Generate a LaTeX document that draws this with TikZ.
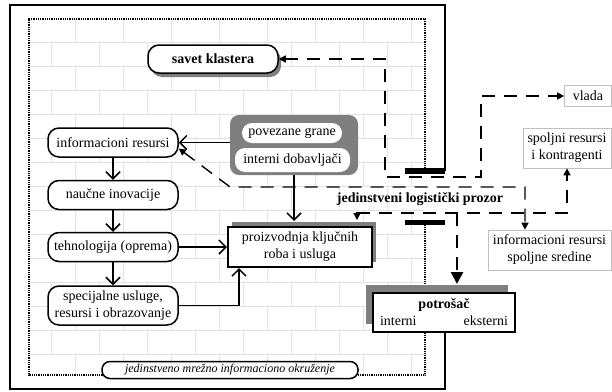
\documentclass[tikz,border=0pt]{standalone}
\usepackage{fontspec}
\setmainfont{Liberation Serif}
\usetikzlibrary{arrows.meta,positioning,shadows,calc}
\definecolor{brickGray}{HTML}{E2E2E2}
\definecolor{shadeGray}{HTML}{7F7F7F}
\tikzset{
  kpill/.style={draw,line width=1.5pt,rounded corners=11pt,fill=white,align=center,
    inner sep=1pt,minimum width=130pt,minimum height=29pt},
  kbox/.style={draw,line width=2pt,fill=white,align=center,inner sep=2pt},
  wpill/.style={fill=white,rounded corners=10pt,inner sep=2pt},
  xbox/.style={draw=black!25,line width=.7pt,fill=white,align=center,inner sep=2pt},
  sflow/.style={-{Straight Barb[length=7pt,width=14pt]},line width=1.5pt},
  dflow/.style={{Triangle[length=7pt,width=7pt]}-{Triangle[length=7pt,width=7pt]},
    line width=1.4pt,dash pattern=on 13pt off 9pt},
  pflow/.style={-{Triangle[length=12pt,width=12pt]},line width=2.4pt,
    dash pattern=on 13pt off 9pt},
  brick/.style={draw=brickGray,line width=.9pt},
}

\begin{document}
\begin{tikzpicture}[x=1pt,y=-1pt,font=\fontsize{14}{17}\selectfont]
\useasboundingbox (0,0) rectangle (612,391);
\begin{scope}
  \clip (29,19) rectangle (425,375);
  \foreach \r in {0,...,14}{
    \pgfmathsetmacro\ya{18+24*\r}
    \pgfmathsetmacro\xo{27-24*mod(\r,2)}
    \draw[brick] (29,\ya) -- (425,\ya);
    \foreach \k in {0,...,8}
      \draw[brick] (\xo+48*\k,\ya) -- (\xo+48*\k,\ya+24);
  }
\end{scope}
\draw[line width=1.6pt] (445,171) -- (445,5) -- (10,5) -- (10,389) -- (445,389) -- (445,332);
\draw[line width=1.2pt,dash pattern=on .9pt off .9pt] (425,171) -- (425,19) -- (29,19)
  -- (29,375) -- (425,375) -- (425,222);
\fill (405,168) rectangle (445,174);
\fill (405,220) rectangle (445,225);

\node[kpill,font=\fontsize{14}{17}\bfseries,minimum height=28pt,
  drop shadow={shadow xshift=3pt,shadow yshift=-4pt,fill=shadeGray,opacity=1}]
  (savet) at (213,59) {savet klastera};
\node[kpill] (ir) at (113,142.5) {informacioni resursi};
\node[kpill] (ni) at (113,195) {naučne inovacije};
\node[kpill] (teh) at (113,247) {tehnologija (oprema)};
\node[kpill,minimum height=39pt] (spec) at (113,305.5) {specijalne usluge,\\resursi i obrazovanje};
\node[fill=shadeGray,rounded corners=9pt,minimum width=128pt,minimum height=60pt]
  (grp) at (294,145) {};
\node[wpill,minimum width=100pt,minimum height=20pt] (pg) at (292,133) {povezane grane};
\node[wpill,minimum width=115pt,minimum height=24pt] (idob) at (292.5,160) {interni dobavljači};
\node[kbox,minimum width=144pt,minimum height=40pt,
  drop shadow={shadow xshift=4pt,shadow yshift=5pt,fill=shadeGray,opacity=1}]
  (proiz) at (300,247) {proizvodnja ključnih\\roba i usluga};
\node[kbox,minimum width=142pt,minimum height=39pt,inner sep=0pt,
  drop shadow={shadow xshift=-7pt,shadow yshift=8pt,fill=shadeGray,opacity=1}]
  (pot) at (444,312.5) {\textbf{potrošač}\\\makebox[128pt]{interni\hfill eksterni}};
\node[xbox,minimum width=47pt,minimum height=21pt] (vlada) at (588,96) {vlada};
\node[xbox,minimum width=88pt,minimum height=40pt] (srk) at (567,148) {spoljni resursi\\i kontragenti};
\node[xbox,minimum width=123pt,minimum height=40pt] (isr) at (549.5,250) {informacioni resursi\\spoljne sredine};
\node[font=\fontsize{14}{17}\bfseries] (lprozor) at (420,199) {jedinstveni logistički prozor};
\node[draw,line width=1.5pt,fill=white,rounded corners=8pt,minimum width=256pt,
  minimum height=17pt,inner sep=0pt,font=\fontsize{12}{14}\itshape]
  (okr) at (230,370) {jedinstveno mrežno informaciono okruženje};

\coordinate (wa) at (385,177);
\coordinate (wb) at (481,177);
\coordinate (wc) at (525,187);
\coordinate (wk) at (230,187);
\coordinate (wd) at (357,213);
\coordinate (we) at (457,213);

\draw[sflow] (ir) -- (ni);
\draw[sflow] (ni) -- (teh);
\draw[sflow] (teh) -- (spec);
\draw[sflow,{Straight Barb[length=7pt,width=14pt]}-] (ir.east) -- (ir.east -| grp.west);
\draw[sflow,shorten >=5pt] (grp.south) -- (grp.south |- proiz.north);
\draw[sflow] (teh.east) -- (teh.east -| proiz.west);
\draw[sflow] (spec.east) -| ([xshift=12pt]proiz.south west);

\draw[dflow] (savet.east) -| (wa) -- (wb) |- (vlada.west);
\draw[dflow] ([yshift=-6pt]ir.east) -- (wk) -- (wc) -- (wc |- isr.north);
\draw[dflow,shorten <=6pt] (wd |- proiz.north) -- (wd) -| (srk.south);
\draw[pflow,shorten >=8pt] (we) -- (we |- pot.north);
\end{tikzpicture}
\end{document}
